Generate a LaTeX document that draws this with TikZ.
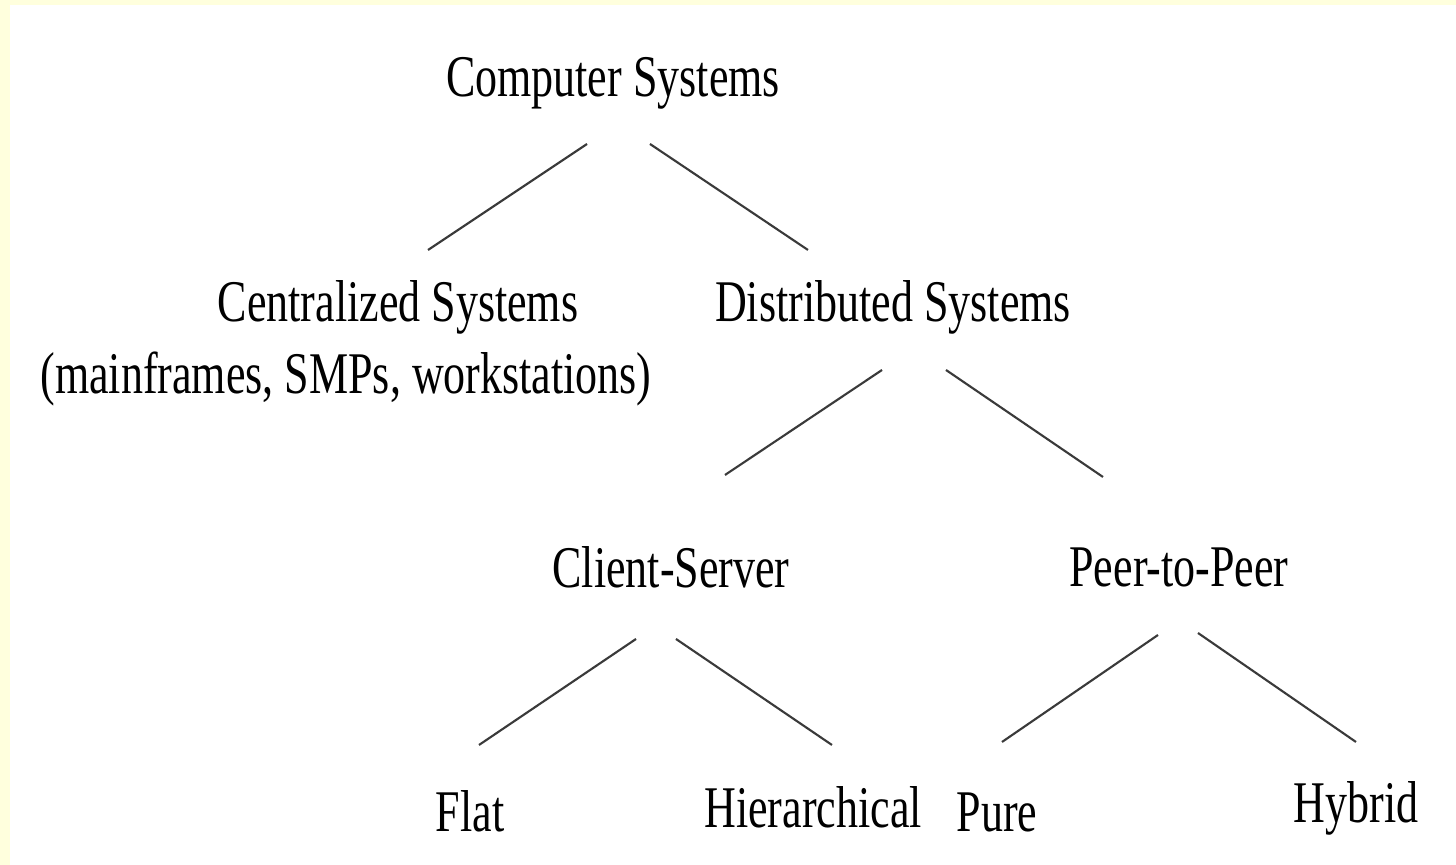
\documentclass[tikz,border=0pt]{standalone}
\usepackage{fontspec}
\newfontfamily\treefont[FakeStretch=0.745]{Liberation Serif}
\definecolor{paleyellow}{HTML}{FFFFDD}
\definecolor{linegray}{HTML}{3A3A3A}
\tikzset{
  lbl/.style={font=\treefont\fontsize{16.8pt}{20pt}\selectfont, inner sep=0pt, anchor=base, text=black},
  branch/.style={draw=linegray, line width=0.6pt}
}
\begin{document}
\begin{tikzpicture}[x=0.01cm, y=-0.01cm]
\useasboundingbox (0,0) rectangle (1456,865);
\fill[white] (0,0) rectangle (1456,865);
% pale frame along the top and left edges
\fill[paleyellow] (0,0) rectangle (1456,5);
\fill[paleyellow] (0,0) rectangle (10,865);

% tree labels (placed on their baselines)
\node[lbl] (comp)   at (613,97)  {Computer Systems};
\node[lbl] (cent)   at (398,322) {Centralized Systems};
\node[lbl] (centex) at (346,394) {(mainframes, SMPs, workstations)};
\node[lbl] (dist)   at (893,322) {Distributed Systems};
\node[lbl] (cs)     at (671,588) {Client-Server};
\node[lbl] (p2p)    at (1179,587) {Peer-to-Peer};
\node[lbl] (flat)   at (470,832) {Flat};
\node[lbl] (hier)   at (813,828) {Hierarchical};
\node[lbl] (pure)   at (997,832) {Pure};
\node[lbl] (hybrid) at (1356,823) {Hybrid};

% end points of the branches
\coordinate (comp-l) at (587,144);  \coordinate (cent-t) at (428,250);
\coordinate (comp-r) at (650,144);  \coordinate (dist-t) at (808,250);
\coordinate (dist-l) at (882,370);  \coordinate (cs-t)   at (725,475);
\coordinate (dist-r) at (946,370);  \coordinate (p2p-t)  at (1103,477);
\coordinate (cs-l)   at (636,639);  \coordinate (flat-t) at (479,745);
\coordinate (cs-r)   at (676,639);  \coordinate (hier-t) at (832,745);
\coordinate (p2p-l)  at (1158,635); \coordinate (pure-t) at (1002,742);
\coordinate (p2p-r)  at (1198,633); \coordinate (hyb-t)  at (1356,742);

\draw[branch] (comp-l) -- (cent-t);
\draw[branch] (comp-r) -- (dist-t);
\draw[branch] (dist-l) -- (cs-t);
\draw[branch] (dist-r) -- (p2p-t);
\draw[branch] (cs-l) -- (flat-t);
\draw[branch] (cs-r) -- (hier-t);
\draw[branch] (p2p-l) -- (pure-t);
\draw[branch] (p2p-r) -- (hyb-t);
\end{tikzpicture}
\end{document}
